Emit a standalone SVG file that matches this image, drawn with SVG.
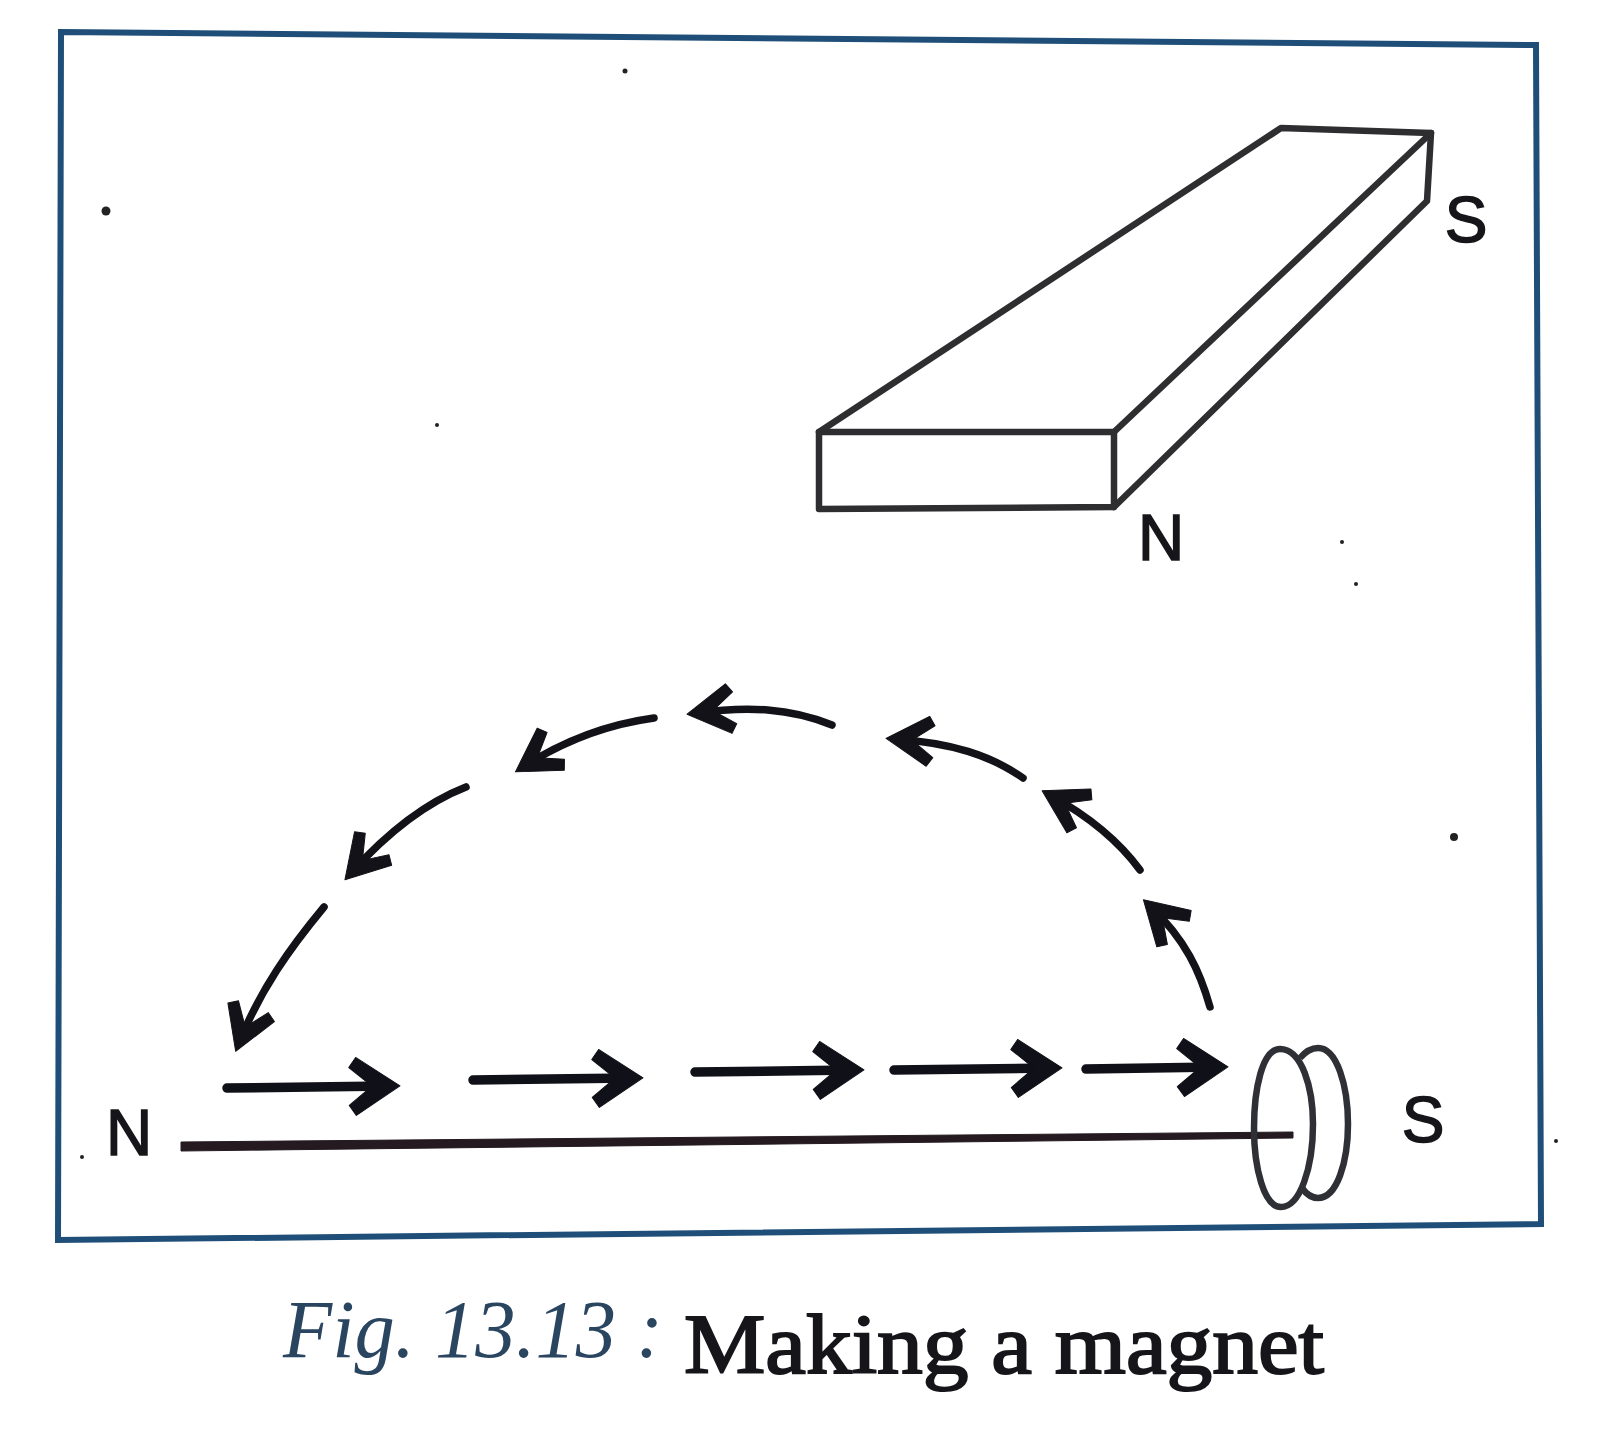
<svg xmlns="http://www.w3.org/2000/svg" width="1600" height="1430" viewBox="0 0 1600 1430">
<style>
.frame{fill:none;stroke:#1f4f78;stroke-width:6}
.bar{fill:none;stroke:#2e2e30;stroke-width:6.5;stroke-linejoin:round;stroke-linecap:round}
.arr{fill:none;stroke:#101018;stroke-width:9.5;stroke-linecap:round}
.carr{fill:none;stroke:#121218;stroke-width:7.5;stroke-linecap:round}
.coil{fill:none;stroke:#2f2f36;stroke-width:6.5}
.lab{font-family:"Liberation Sans",Arial,sans-serif;font-size:64px;fill:#16161a;stroke:#16161a;stroke-width:1.5;text-anchor:middle}
.dot{fill:#222}
</style>
<defs>
<marker id="h" markerUnits="userSpaceOnUse" markerWidth="64" markerHeight="64" refX="41" refY="32" orient="auto">
<path d="M52,32 L8,3 L1,13 L24,32 L1,51 L8,61 Z" fill="#101018" stroke="#101018" stroke-width="1" stroke-linejoin="round"/>
</marker>
<marker id="c" markerUnits="userSpaceOnUse" markerWidth="64" markerHeight="64" refX="41" refY="32" orient="auto">
<path d="M50,32 L8,7 L2,16 L24,32 L2,48 L8,57 Z" fill="#121218" stroke="#121218" stroke-width="1" stroke-linejoin="round"/>
</marker>
</defs>
<rect width="1600" height="1430" fill="#fff"/>
<path id="frame" class="frame" d="M61,32 L1536,45 L1541,1224 L58,1240 Z"/>
<g id="bar-magnet">
<path class="bar" d="M819,432 L1114,432 L1114,507 L819,509 Z"/>
<path class="bar" d="M819,432 L1281,128 L1431,133 L1114,432"/>
<path class="bar" d="M1431,133 L1427,201 L1114,507"/>
<text class="lab" x="1466" y="242">S</text>
<text class="lab" x="1161" y="560">N</text>
</g>
<g id="needle">
<path d="M181,1142 L1293,1132 L1293,1138 L181,1151 Z" fill="#241a20" stroke="#241a20" stroke-width="1" stroke-linejoin="round"/>
<path class="coil" d="M1280,1049 C1262,1049 1254,1090 1254,1128 C1254,1168 1264,1207 1281,1207 C1300,1207 1313,1168 1313,1124 C1313,1088 1302,1049 1280,1049 Z"/>
<path class="coil" d="M1300,1058 C1306,1051 1312,1048 1318,1048 C1337,1048 1348,1086 1348,1124 C1348,1162 1337,1198 1318,1198 C1312,1198 1307,1195 1302,1188"/>
<text class="lab" x="129" y="1155">N</text>
<text class="lab" x="1423" y="1142">S</text>
</g>
<g id="connectors">
<path class="arr" marker-end="url(#h)" d="M227,1088 L389,1086"/>
<path class="arr" marker-end="url(#h)" d="M473,1080 L632,1078"/>
<path class="arr" marker-end="url(#h)" d="M695,1072 L853,1070"/>
<path class="arr" marker-end="url(#h)" d="M894,1070 L1051,1068"/>
<path class="arr" marker-end="url(#h)" d="M1086,1069 L1217,1067"/>
<path class="carr" marker-end="url(#c)" d="M1210,1007 C1200,972 1186,940 1150,906"/>
<path class="carr" marker-end="url(#c)" d="M1140,870 C1118,840 1090,817 1050,795"/>
<path class="carr" marker-end="url(#c)" d="M1023,778 C990,755 952,743 895,739"/>
<path class="carr" marker-end="url(#c)" d="M832,725 C790,708 748,706 696,713"/>
<path class="carr" marker-end="url(#c)" d="M654,718 C610,724 568,738 523,767"/>
<path class="carr" marker-end="url(#c)" d="M466,787 C425,803 388,832 351,873"/>
<path class="carr" marker-end="url(#c)" d="M324,907 C290,948 260,990 239,1043"/>
</g>
<g id="caption">
<text x="283" y="1357" font-family="'Liberation Serif',serif" font-style="italic" font-size="82" fill="#2a4560" textLength="380" lengthAdjust="spacingAndGlyphs">Fig. 13.13 :</text>
<text x="684" y="1373" font-family="'Liberation Serif',serif" font-size="84" fill="#15151a" stroke="#15151a" stroke-width="2" textLength="640" lengthAdjust="spacingAndGlyphs">Making a magnet</text>
</g>
<g id="specks">
<circle class="dot" cx="106" cy="211" r="4.5"/>
<circle class="dot" cx="625" cy="71" r="2.5"/>
<circle class="dot" cx="437" cy="425" r="2"/>
<circle class="dot" cx="1454" cy="837" r="4"/>
<circle class="dot" cx="1342" cy="542" r="2"/>
<circle class="dot" cx="1356" cy="584" r="2"/>
<circle class="dot" cx="1556" cy="1141" r="2"/>
<circle class="dot" cx="82" cy="1157" r="2"/>
</g>
</svg>
